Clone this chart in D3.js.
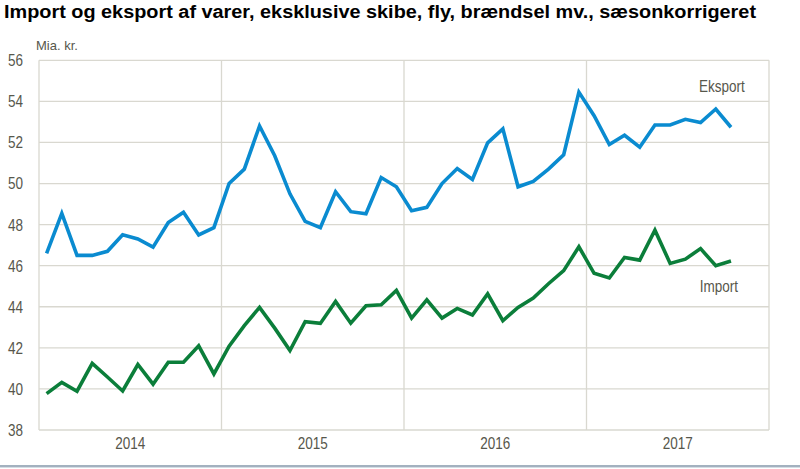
<!DOCTYPE html>
<html>
<head>
<meta charset="utf-8">
<script src="https://cdn.jsdelivr.net/npm/d3@7"></script>
<style>
  html, body { margin: 0; padding: 0; background: #fff; }
  svg { display: block; }
</style>
</head>
<body>
<svg id="chart" width="800" height="469"></svg>
<script>
const title = "Import og eksport af varer, eksklusive skibe, fly, brændsel mv., sæsonkorrigeret";
const unitLabel = "Mia. kr.";
const years = ["2014", "2015", "2016", "2017"];
const months = [];
years.forEach(y => { for (let m = 1; m <= 12; m++) months.push(y + "M" + String(m).padStart(2, "0")); });
const categories = months.slice(0, 46); // 2014M01 .. 2017M10
const yTicks = [38, 40, 42, 44, 46, 48, 50, 52, 54, 56];

const eksport = [46.6, 48.55, 46.5, 46.5, 46.7, 47.5, 47.3, 46.9, 48.1, 48.6, 47.5, 47.85,
  50.0, 50.7, 52.8, 51.35, 49.5, 48.16, 47.85, 49.6, 48.63, 48.53, 50.29, 49.84,
  48.68, 48.84, 50.0, 50.73, 50.2, 51.98, 52.66, 49.84, 50.1, 50.7, 51.4, 54.45,
  53.3, 51.9, 52.35, 51.77, 52.85, 52.85, 53.13, 52.97, 53.63, 52.74];
const importV = [39.77, 40.32, 39.89, 41.24, 40.58, 39.9, 41.19, 40.23, 41.3, 41.3, 42.1, 40.73,
  42.08, 43.08, 43.97, 42.96, 41.87, 43.27, 43.19, 44.26, 43.2, 44.05, 44.1, 44.8,
  43.45, 44.34, 43.45, 43.92, 43.6, 44.63, 43.32, 43.97, 44.42, 45.12, 45.76, 46.92,
  45.63, 45.4, 46.4, 46.27, 47.73, 46.11, 46.32, 46.83, 46.0, 46.23];

const series = [
  { name: "Eksport", values: eksport, color: "#0a8bd0", labelAt: [44.4, 54.46] },
  { name: "Import", values: importV, color: "#0b7e3a", labelAt: [44.2, 44.73] }
];

const svg = d3.select("#chart");
const L = 39, R = 769, T = 60.3, B = 430;
const x = d3.scaleLinear().domain([0, years.length * 12]).range([L, R]);
const y = d3.scaleLinear().domain([38, 56]).range([B, T]);
const gridColor = "#d9d8d0";
const textColor = "#57574c";
const FONT = "'Liberation Sans', Arial, sans-serif";

// narrow text helper (Arial Narrow look)
function narrowText(parent, px, py, txt, anchor, dy) {
  const g = parent.append("g").attr("transform", `translate(${px},${py})`);
  g.append("text").attr("transform", "scale(0.82,1)")
    .attr("font-family", FONT).attr("font-size", 16.5).attr("fill", textColor)
    .attr("text-anchor", anchor).attr("dy", dy || 0)
    .text(txt);
  return g;
}

// Title
svg.append("text").attr("x", 4).attr("y", 17.5)
  .attr("font-family", FONT)
  .attr("font-weight", "bold").attr("font-size", 18).attr("fill", "#000")
  .attr("textLength", 752).attr("lengthAdjust", "spacingAndGlyphs")
  .text(title);

// Unit label
svg.append("text").attr("x", 36).attr("y", 50)
  .attr("font-family", FONT)
  .attr("font-size", 13).attr("fill", textColor)
  .text(unitLabel);

// Horizontal gridlines
svg.append("g").selectAll("line").data(yTicks).join("line")
  .attr("x1", L).attr("x2", R)
  .attr("y1", d => y(d)).attr("y2", d => y(d))
  .attr("stroke", gridColor).attr("stroke-width", 1.3);

// Vertical lines at year boundaries (incl. frame)
const yearBounds = d3.range(0, years.length + 1).map(i => i * 12);
svg.append("g").selectAll("line").data(yearBounds).join("line")
  .attr("x1", d => x(d)).attr("x2", d => x(d))
  .attr("y1", T).attr("y2", B)
  .attr("stroke", gridColor).attr("stroke-width", 1.3);

// Y tick labels
const yl = svg.append("g");
yTicks.forEach(t => narrowText(yl, 23, y(t), String(t), "end", "0.36em"));

// Year labels
const xl = svg.append("g");
years.forEach((yr, i) => narrowText(xl, x(i * 12 + 6), 449, yr, "middle"));

// Lines
const line = d3.line().x((d, i) => x(i + 0.5)).y(d => y(d));
series.forEach(s => {
  svg.append("path").datum(s.values)
    .attr("d", line).attr("fill", "none")
    .attr("stroke", s.color).attr("stroke-width", 3.6)
    .attr("stroke-linejoin", "miter").attr("stroke-linecap", "butt");
  narrowText(svg, x(s.labelAt[0] + 0.5), y(s.labelAt[1]), s.name, "middle");
});

// Bottom rule
svg.append("line").attr("x1", 0).attr("x2", 800).attr("y1", 466).attr("y2", 466)
  .attr("stroke", "#8497aa").attr("stroke-width", 1.5);
svg.append("line").attr("x1", 0).attr("x2", 800).attr("y1", 467.5).attr("y2", 467.5)
  .attr("stroke", "#d5dde5").attr("stroke-width", 1);
</script>
</body>
</html>
